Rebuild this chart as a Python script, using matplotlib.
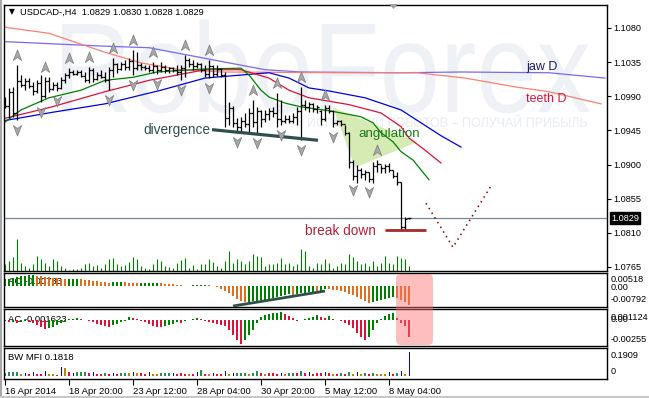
import matplotlib
matplotlib.use("Agg")
import matplotlib.pyplot as plt
import matplotlib.transforms as mtransforms
from matplotlib.collections import LineCollection
from matplotlib.patches import Polygon, FancyBboxPatch, PathPatch
from matplotlib.path import Path
from matplotlib.textpath import TextPath
from matplotlib.font_manager import FontProperties
from matplotlib.lines import Line2D

FONT = "Liberation Sans"
plt.rcParams["font.family"] = [FONT, "DejaVu Sans"]

# ---------------- data ----------------
opens = [1.0987,1.0977,1.0996,1.0968,1.1010,1.1005,1.1010,1.1003,1.0997,1.1008,
1.0990,1.1010,1.1000,1.1005,1.1001,1.1012,1.1018,1.1022,1.1020,1.1022,
1.1017,1.1012,1.1024,1.1013,1.1018,1.1016,1.1012,1.1024,1.1033,1.1026,
1.1032,1.1029,1.1036,1.1027,1.1031,1.1028,1.1027,1.1025,1.1030,1.1024,
1.1029,1.1025,1.1027,1.1024,1.1022,1.1027,1.1038,1.1033,1.1030,1.1032,
1.1025,1.1020,1.1030,1.1019,1.1026,1.1018,1.0962,1.0975,1.0955,1.0950,
1.0958,1.0953,1.0968,1.0956,1.0970,1.0960,1.0966,1.0970,1.0968,1.0960,
1.0958,1.0960,1.0957,1.0963,1.0970,1.0978,1.0976,1.0980,1.0973,1.0970,
1.0960,1.0975,1.0971,1.0955,1.0957,1.0953,1.0942,1.0903,1.0885,1.0893,
1.0887,1.0890,1.0881,1.0898,1.0901,1.0895,1.0898,1.0893,1.0885,1.0877,
1.0818,1.0829]
highs = [1.0989,1.1001,1.1002,1.1031,1.1018,1.1014,1.1014,1.1009,1.1011,1.1018,
1.1015,1.1015,1.1009,1.1009,1.1015,1.1021,1.1027,1.1025,1.1025,1.1025,
1.1022,1.1029,1.1027,1.1022,1.1025,1.1022,1.1029,1.1040,1.1034,1.1035,
1.1038,1.1040,1.1051,1.1048,1.1034,1.1031,1.1031,1.1035,1.1031,1.1035,
1.1031,1.1029,1.1029,1.1031,1.1031,1.1044,1.1040,1.1038,1.1035,1.1034,
1.1031,1.1038,1.1031,1.1031,1.1027,1.1022,1.0983,1.0977,1.0961,1.0963,
1.0968,1.0975,1.0985,1.0976,1.0972,1.0972,1.0975,1.0976,1.0994,1.0985,
1.0965,1.0965,1.0968,1.0976,1.1002,1.0985,1.0983,1.0981,1.0979,1.0972,
1.0979,1.0979,1.0972,1.0959,1.0959,1.0952,1.0943,1.0906,1.0899,1.0895,
1.0893,1.0890,1.0903,1.0906,1.0899,1.0901,1.0902,1.0893,1.0890,1.0877,
1.0831,1.0830]
lows = [1.0975,1.0961,1.0963,1.0959,1.1002,1.0998,1.1001,1.0992,1.0994,1.0983,
1.0988,1.0995,1.0998,1.0997,1.1000,1.1007,1.1014,1.1018,1.1018,1.1015,
1.1009,1.1008,1.1009,1.1011,1.1014,1.1009,1.0998,1.1015,1.1021,1.1025,
1.1025,1.1025,1.1018,1.1025,1.1025,1.1025,1.1022,1.1021,1.1020,1.1022,
1.1021,1.1021,1.1022,1.1018,1.1011,1.1015,1.1029,1.1025,1.1027,1.1022,
1.1015,1.1014,1.1015,1.1017,1.1015,1.0950,1.0952,1.0950,1.0943,1.0943,
1.0950,1.0942,1.0950,1.0942,1.0950,1.0956,1.0959,1.0963,1.0950,1.0952,
1.0955,1.0955,1.0955,1.0952,1.0932,1.0972,1.0969,1.0969,1.0968,1.0952,
1.0958,1.0968,1.0950,1.0952,1.0951,1.0939,1.0896,1.0880,1.0876,1.0882,
1.0880,1.0877,1.0876,1.0890,1.0889,1.0889,1.0890,1.0882,1.0873,1.0814,
1.0815,1.0828]
closes = [1.0977,1.0996,1.0968,1.1010,1.1005,1.1010,1.1003,1.0997,1.1008,1.0990,
1.1010,1.1000,1.1005,1.1001,1.1012,1.1018,1.1022,1.1020,1.1022,1.1017,
1.1012,1.1024,1.1013,1.1018,1.1016,1.1012,1.1024,1.1033,1.1026,1.1032,
1.1029,1.1036,1.1027,1.1031,1.1028,1.1027,1.1025,1.1030,1.1024,1.1029,
1.1025,1.1027,1.1024,1.1022,1.1027,1.1038,1.1033,1.1030,1.1032,1.1025,
1.1020,1.1030,1.1019,1.1026,1.1018,1.0962,1.0975,1.0955,1.0950,1.0958,
1.0953,1.0968,1.0956,1.0970,1.0960,1.0966,1.0970,1.0968,1.0960,1.0958,
1.0960,1.0957,1.0963,1.0970,1.0978,1.0976,1.0980,1.0973,1.0976,1.0960,
1.0975,1.0971,1.0955,1.0957,1.0953,1.0942,1.0903,1.0885,1.0893,1.0887,
1.0890,1.0881,1.0898,1.0901,1.0895,1.0898,1.0893,1.0885,1.0877,1.0818,
1.0828,1.0829]
volumes = [7,10,14,32,8,5,3,7,15,12,8,5,12,10,5,3,1,2,2,3,
7,8,5,6,3,7,12,13,7,5,6,9,14,12,5,3,2,7,12,10,
5,4,3,8,11,13,3,6,2,7,7,12,9,5,3,10,20,8,12,10,
7,10,17,15,14,5,7,7,8,13,7,8,5,7,22,20,5,3,8,7,
12,8,3,5,8,7,17,14,10,7,8,5,10,5,8,15,8,7,15,13,
12,5]

# H4 Alligator (shifted lines), read at knots: bar index -> price
jaw_idx = [0, 12, 25, 39, 50, 59, 66, 71, 76, 81, 90, 99, 104, 109, 114]
jaw_val = [1.0958, 1.0969, 1.0980, 1.0998, 1.1014, 1.1018, 1.1021, 1.1014, 1.1001,
           1.0997, 1.0988, 1.0972, 1.0955, 1.0938, 1.0923]
teeth_idx = [0, 11, 25, 36, 50, 59, 66, 71, 76, 86, 94, 99, 101, 105, 109]
teeth_val = [1.0961, 1.0975, 1.0996, 1.1011, 1.1025, 1.1025, 1.1014, 1.0998, 1.0988,
             1.0979, 1.0968, 1.0950, 1.0935, 1.0919, 1.0902]
lips_idx = [0, 4, 11, 19, 25, 32, 38, 50, 59, 61, 64, 66, 70, 74, 81, 89, 92, 94, 97,
            99, 102, 104, 106]
lips_val = [1.0956, 1.0972, 1.0988, 1.0998, 1.1011, 1.1015, 1.1022, 1.1026, 1.1027,
            1.1018, 1.0998, 1.0989, 1.0981, 1.0976, 1.0971, 1.0963, 1.0955, 1.0942,
            1.0930, 1.0917, 1.0906, 1.0893, 1.0880]
# Daily Alligator
jawD_idx = [0, 25, 36, 50, 65, 74, 99, 114, 136, 150]
jawD_val = [1.1062, 1.1056, 1.1054, 1.1040, 1.1025, 1.1022, 1.1021, 1.1022, 1.1021, 1.1014]
teethD_idx = [0, 11, 25, 34, 44, 54, 84, 103, 115, 128, 136, 149]
teethD_val = [1.1081, 1.1073, 1.1048, 1.1034, 1.1025, 1.1022, 1.1021, 1.1021, 1.1014,
              1.1002, 1.0996, 1.0980]

fractal_up = [3, 10, 16, 21, 27, 32, 37, 45, 51, 62, 68, 74, 80, 93]
fractal_dn = [3, 9, 13, 26, 32, 38, 44, 51, 58, 63, 69, 74, 82, 87, 91]

ao = [0.00270,0.00289,0.00308,0.00347,0.00385,0.00404,0.00424,0.00431,0.00404,0.00385,
0.00366,0.00347,0.00327,0.00308,0.00289,0.00270,0.00277,0.00285,0.00293,0.00281,
0.00262,0.00243,0.00223,0.00204,0.00185,0.00166,0.00146,0.00154,0.00162,0.00169,
0.00158,0.00142,0.00127,0.00116,0.00119,0.00123,0.00127,0.00131,0.00135,0.00123,
0.00108,0.00092,0.00077,0.00062,0.00046,0.00031,0.00035,0.00039,0.00042,0.00046,
0.00050,0.00039,0.00012,-0.00031,-0.00096,-0.00173,-0.00270,-0.00385,-0.00481,-0.00558,
-0.00616,-0.00597,-0.00578,-0.00558,-0.00539,-0.00520,-0.00481,-0.00443,-0.00404,-0.00366,
-0.00327,-0.00308,-0.00320,-0.00289,-0.00270,-0.00250,-0.00231,-0.00212,-0.00223,-0.00173,
-0.00096,-0.00116,-0.00135,-0.00154,-0.00193,-0.00231,-0.00289,-0.00347,-0.00424,-0.00501,
-0.00578,-0.00635,-0.00616,-0.00578,-0.00539,-0.00501,-0.00462,-0.00424,-0.00462,-0.00539,
-0.00616,-0.00733]
ac = [-0.00010,-0.00020,-0.00015,-0.00030,-0.00020,-0.00010,-0.00020,-0.00030,-0.00050,-0.00070,
-0.00084,-0.00079,-0.00070,-0.00050,-0.00030,-0.00015,0.00010,0.00015,0.00020,0.00010,
0.00003,-0.00010,-0.00020,-0.00040,-0.00050,-0.00060,-0.00065,-0.00050,-0.00035,-0.00020,
-0.00005,0.00030,0.00020,0.00010,-0.00010,-0.00020,-0.00040,-0.00055,-0.00065,-0.00070,
-0.00055,-0.00045,-0.00035,-0.00020,-0.00030,-0.00010,0.00005,0.00015,0.00020,0.00010,
-0.00010,-0.00020,-0.00030,-0.00040,-0.00050,-0.00060,-0.00099,-0.00149,-0.00199,-0.00238,
-0.00199,-0.00149,-0.00099,-0.00030,0.00030,0.00050,0.00060,0.00070,0.00074,0.00079,
0.00060,0.00040,0.00020,-0.00010,0.00005,0.00015,0.00025,0.00035,0.00050,0.00030,
0.00020,0.00040,0.00010,0.00000,-0.00010,-0.00030,-0.00050,-0.00079,-0.00129,-0.00169,
-0.00199,-0.00169,-0.00099,-0.00030,0.00010,0.00040,0.00060,0.00070,0.00020,-0.00030,
-0.00060,-0.001623]
mfi = [0.023,0.030,0.030,0.030,0.015,0.023,0.015,0.030,0.015,0.015,
0.038,0.015,0.015,0.008,0.068,0.061,0.030,0.023,0.030,0.030,
0.030,0.023,0.030,0.015,0.015,0.023,0.015,0.023,0.015,0.023,
0.023,0.023,0.030,0.023,0.023,0.015,0.030,0.015,0.015,0.023,
0.023,0.023,0.023,0.015,0.023,0.015,0.015,0.015,0.030,0.045,
0.015,0.015,0.023,0.015,0.015,0.038,0.015,0.023,0.023,0.023,
0.023,0.015,0.023,0.038,0.023,0.015,0.023,0.023,0.015,0.023,
0.015,0.023,0.023,0.023,0.038,0.023,0.030,0.015,0.023,0.023,
0.030,0.023,0.015,0.015,0.023,0.015,0.030,0.015,0.030,0.015,
0.023,0.015,0.023,0.015,0.015,0.015,0.030,0.015,0.023,0.038,
0.015,0.1818]
mfi_kind = ("ggggybrbrrbyyrbyrbgggrbrrgrbrggybyrrbyygggbrrryrbgryb"
            "rrbybgggyggryrrrbyggrgrbrrrbryrgrgybygrgyyybrgby"+"b")

tick_idx = [0, 16, 32, 48, 64, 80, 96]
tick_lbl = ["16 Apr 2014", "18 Apr 20:00", "23 Apr 12:00", "28 Apr 04:00",
            "30 Apr 20:00", "5 May 12:00", "8 May 04:00"]
price_ticks = [1.1080, 1.1035, 1.0990, 1.0945, 1.0900, 1.0855, 1.0810, 1.0765]
last_price = 1.0829

# ---------------- layout ----------------
W, H = 649, 398
fig = plt.figure(figsize=(W / 100, H / 100), dpi=100)
fig.patch.set_facecolor("white")
IDT = mtransforms.IdentityTransform()

def ax_px(x0, y0, x1, y1):
    a = fig.add_axes([x0 / W, 1 - y1 / H, (x1 - x0) / W, (y1 - y0) / H])
    a.set_facecolor("none")
    for s in a.spines.values():
        s.set_linewidth(1.0)
        s.set_color("black")
    return a

XL = (-0.25, 150.5)
n = len(closes)
xs = list(range(n))

ax = ax_px(4, 5, 607, 271)
ax_ao = ax_px(4, 273, 607, 307)
ax_ac = ax_px(4, 309, 607, 346)
ax_mfi = ax_px(4, 348, 607, 379)

# window frame (grey edges)
fig.add_artist(Line2D([0.8, 0.8], [0, H], color="#a8a8a8", lw=1.5, transform=IDT))
fig.add_artist(Line2D([0, W], [1.5, 1.5], color="#c8c8c8", lw=1.5, transform=IDT))

# watermark
def text_patch(s, x0, x1, ytop, ybase, color, weight="normal"):
    tp = TextPath((0, 0), s, size=100, prop=FontProperties(family=FONT, weight=weight))
    bb = tp.get_extents()
    sx = (x1 - x0) / bb.width
    tr = (mtransforms.Affine2D().translate(-bb.x0, 0).scale(sx, (ybase - ytop) / 72.0)
          .translate(x0, H - ybase))
    p = PathPatch(tr.transform_path(tp), facecolor=color, edgecolor="none",
                  transform=IDT, zorder=0.1)
    fig.add_artist(p)

text_patch("RoboForex", 62, 590, 20, 112, "#eef1f6")
text_patch("ИСПОЛЬЗУЙ РОБОТОВ – ПОЛУЧАЙ ПРИБЫЛЬ", 308, 587, 117, 127, "#e9ecf2")

# volumes (twin axis at bottom of main panel)
axv = ax.twinx()
axv.set_ylim(0, 266)
axv.vlines(xs, 0, volumes, color="#008000", lw=0.8)
axv.set_yticks([])
for s in axv.spines.values():
    s.set_visible(False)
axv.set_zorder(ax.get_zorder() - 0.5)
ax.set_zorder(1)

ax.set_xlim(*XL)
axv.set_xlim(*XL)
ax.set_ylim(1.07597, 1.11103)

# angulation triangle
tri = Polygon([(82, 1.0975), (103.2, 1.0930), (87.5, 1.0896)], closed=True,
              facecolor="#d6eab4", edgecolor="none", zorder=0.5)
ax.add_patch(tri)

# daily alligator
ax.plot(jawD_idx, jawD_val, color="#7b68ee", lw=0.9, zorder=1)
ax.plot(teethD_idx, teethD_val, color="#fa8072", lw=0.9, zorder=1)
# H4 alligator
ax.plot(jaw_idx, jaw_val, color="#0000e0", lw=0.9, zorder=2)
ax.plot(teeth_idx, teeth_val, color="#e0103c", lw=0.9, zorder=2)
ax.plot(lips_idx, lips_val, color="#008000", lw=0.9, zorder=2)

# current price line
ax.axhline(last_price, color="#778899", lw=0.9, zorder=1.5)

# OHLC bars
segs = []
for i in xs:
    segs.append([(i, lows[i]), (i, highs[i])])
    segs.append([(i - 0.45, opens[i]), (i, opens[i])])
    segs.append([(i, closes[i]), (i + 0.45, closes[i])])
ax.add_collection(LineCollection(segs, colors="black", linewidths=0.9, zorder=3))

# fractals
up_path = Path([(0, 1), (0.75, -0.9), (0, -0.35), (-0.75, -0.9), (0, 1)],
               [Path.MOVETO, Path.LINETO, Path.LINETO, Path.LINETO, Path.CLOSEPOLY])
dn_path = Path([(0, -1), (0.75, 0.9), (0, 0.35), (-0.75, 0.9), (0, -1)],
               [Path.MOVETO, Path.LINETO, Path.LINETO, Path.LINETO, Path.CLOSEPOLY])
tr_up = mtransforms.offset_copy(ax.transData, fig=fig, y=10, units="dots")
tr_dn = mtransforms.offset_copy(ax.transData, fig=fig, y=-10, units="dots")
ax.plot(fractal_up, [highs[i] for i in fractal_up], ls="none", marker=up_path,
        ms=8, mfc="#a8a8a8", mec="#7c7c7c", mew=0.5, transform=tr_up, zorder=4)
ax.plot(fractal_dn, [lows[i] for i in fractal_dn], ls="none", marker=dn_path,
        ms=8, mfc="#a8a8a8", mec="#7c7c7c", mew=0.5, transform=tr_dn, zorder=4)

# annotations
ax.plot([51.75, 78.25], [1.0946, 1.0932], color="#2f4f4f", lw=2.3, zorder=3.5,
        solid_capstyle="butt")
ax.text(34.5, 1.0946, "divergence", color="#2f4f4f", fontsize=9.8, va="center",
        ha="left", zorder=5)
ax.text(88.25, 1.0940, "angulation", color="#1f7a1f", fontsize=9.6, va="center",
        ha="left", zorder=5)
ax.plot([95, 105.25], [1.0814, 1.0814], color="#a52a2a", lw=2.0, zorder=3.5,
        solid_capstyle="butt")
ax.text(75, 1.0813, "break down", color="#b5213a", fontsize=9.8, va="center",
        ha="left", zorder=5)
ax.plot([105.25, 112, 121.75], [1.0849, 1.0791, 1.0874], color="#8b0000", lw=1.1,
        ls=(0, (1, 2.6)), zorder=3)
ax.text(130.25, 1.1029, "jaw D", color="#191970", fontsize=9, va="center", ha="left")
ax.text(130.25, 1.0986, "teeth D", color="#dc143c", fontsize=9, va="center", ha="left")

# axes ticks
ax.yaxis.tick_right()
ax.set_yticks(price_ticks)
ax.set_yticklabels([f"{p:.4f}" for p in price_ticks])
ax.tick_params(axis="y", length=3, width=0.8, pad=1.5, labelsize=6.6, direction="out")
ax.set_xticks([])

# title
fig.text(9 / W, 1 - 12 / H, "▼", fontsize=5.5, va="center", ha="left",
         family="DejaVu Sans")
fig.text(20 / W, 1 - 12 / H, "USDCAD-,H4  1.0829 1.0830 1.0828 1.0829",
         fontsize=6.7, va="center", ha="left")

# last price box
fig.text(611 / W, 1 - 218 / H, "1.0829", fontsize=6.6, color="white", va="center",
         ha="left", bbox=dict(boxstyle="square,pad=0.15", fc="black", ec="black"))

# chart-shift triangle at top
fig.add_artist(Polygon([(389, H - 4), (398, H - 4), (393.5, H - 9)], closed=True,
                       transform=IDT, facecolor="#a0a0a0", edgecolor="none", zorder=6))

# ---------------- AO ----------------
ao_cols = ["#008000" if (i == 0 or ao[i] >= ao[i - 1]) else "#dd6f1f" for i in xs]
ax_ao.bar(xs, ao, width=0.72, color=ao_cols, zorder=2)
ax_ao.set_xlim(*XL)
ax_ao.set_ylim(-0.00792, 0.00518)
ax_ao.set_xticks([]); ax_ao.set_yticks([])
ax_ao.plot([57, 80], [-0.00755, -0.00177], color="#2f4f4f", lw=2.0, zorder=3,
           solid_capstyle="butt")
ax_ao.text(0.007, (307 - 282) / 34, "AO -0.00733", transform=ax_ao.transAxes,
           fontsize=6.8, va="center", ha="left", zorder=1)

# ---------------- AC ----------------
ac_cols = ["#008000" if (i == 0 or ac[i] >= ac[i - 1]) else "#dc143c" for i in xs]
ax_ac.bar(xs, ac, width=0.72, color=ac_cols, zorder=2)
ax_ac.set_xlim(*XL)
ax_ac.set_ylim(-0.00255, 0.001124)
ax_ac.set_xticks([]); ax_ac.set_yticks([])
ax_ac.text(0.007, (346 - 320) / 37, "AC -0.001623", transform=ax_ac.transAxes,
           fontsize=6.8, va="center", ha="left", zorder=1)

# ---------------- BW MFI ----------------
kcol = {"g": "#2e8b57", "b": "#0000ff", "r": "#dc143c", "y": "#b8860b"}
for i in xs:
    k = mfi_kind[i]
    w = 0.25 if k == "b" else 0.72
    ax_mfi.bar(i, mfi[i], width=w, color=kcol[k], zorder=2)
ax_mfi.set_xlim(*XL)
ax_mfi.set_ylim(-0.0227, 0.2121)
ax_mfi.set_yticks([])
ax_mfi.text(0.007, (379 - 357) / 31, "BW MFI 0.1818", transform=ax_mfi.transAxes,
            fontsize=6.8, va="center", ha="left", zorder=1)
ax_mfi.set_xticks(tick_idx)
ax_mfi.set_xticklabels(tick_lbl, ha="left")
ax_mfi.tick_params(axis="x", length=4, width=0.8, pad=2, labelsize=6.8, direction="out")

# right-side labels of sub panels (overlapping pairs as in the source chart)
def rlab(y, s):
    fig.text(611 / W, 1 - y / H, s, fontsize=6.6, va="center", ha="left")

rlab(280, "0.00518"); rlab(287, "0.00"); rlab(300, "-0.00792")
rlab(317, "0.001124"); rlab(320, "0.00"); rlab(340, "-0.00255")
rlab(355, "0.1909"); rlab(372, "0")

# pink highlight
fig.add_artist(FancyBboxPatch((396, H - 345), 37, 71,
                              boxstyle="round,pad=0,rounding_size=5",
                              transform=IDT, facecolor="#ff7070", alpha=0.45,
                              edgecolor="none", zorder=6))

fig.savefig("out.png", dpi=100, facecolor="white")
